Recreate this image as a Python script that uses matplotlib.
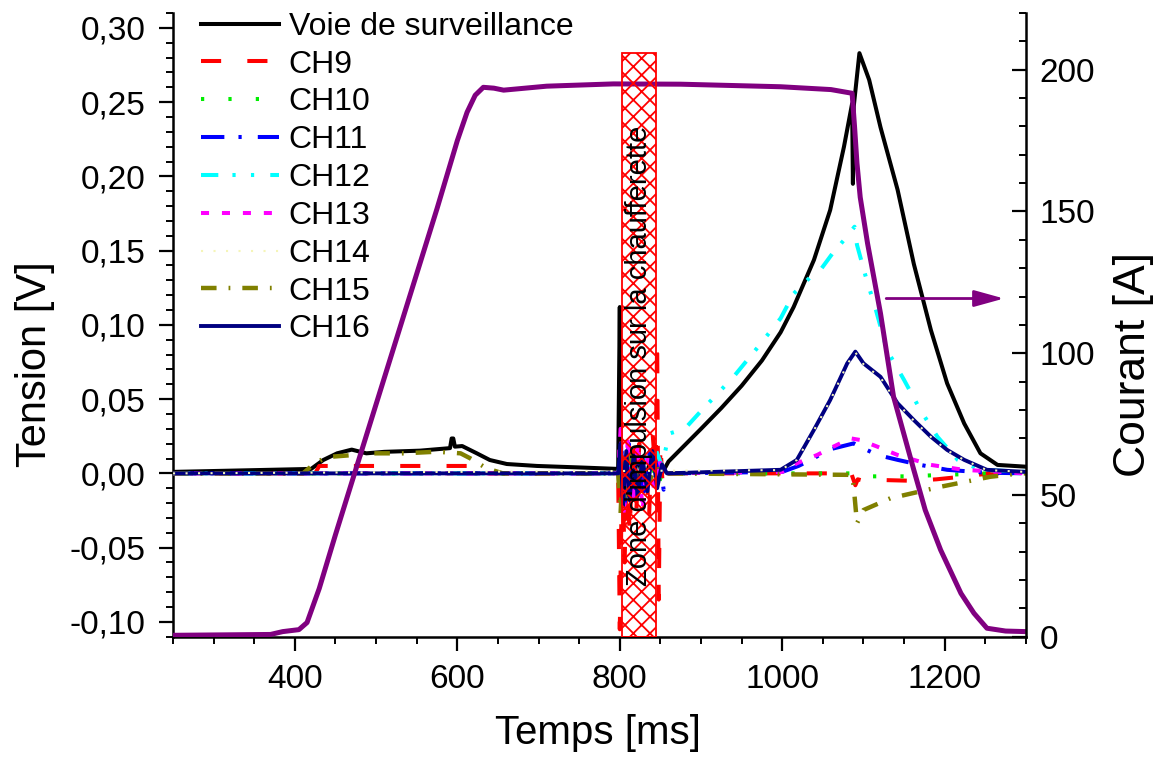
import matplotlib
matplotlib.use("Agg")
import matplotlib.pyplot as plt
from matplotlib.patches import Rectangle
from matplotlib.ticker import MultipleLocator, FuncFormatter

plt.rcParams["font.family"] = ["Liberation Sans", "DejaVu Sans"]
plt.rcParams["hatch.linewidth"] = 1.3

# --- data (time in ms, voltage in V, current in A) ---
t_voie = [250, 420, 435, 452, 470, 488, 510, 554, 591, 593, 595, 597, 606, 624, 640, 661, 698,
          750, 798, 800, 801, 803, 808, 815, 822, 830, 838, 845, 852, 860, 880, 900, 925, 950,
          975, 998, 1014, 1039, 1059, 1076, 1086, 1087, 1088, 1095, 1107, 1121, 1142, 1162,
          1183, 1203, 1224, 1244, 1265, 1300]
v_voie = [0.001, 0.003, 0.009, 0.0135, 0.016, 0.0135, 0.0145, 0.0153, 0.017, 0.0235, 0.0235,
          0.018, 0.0184, 0.0135, 0.009, 0.0063, 0.005, 0.004, 0.003, 0.112, 0.02, -0.005, 0.01,
          -0.01, 0.012, -0.008, 0.01, 0.004, 0.0, 0.008, 0.019, 0.03, 0.044, 0.059, 0.076,
          0.095, 0.112, 0.1437, 0.1773, 0.22, 0.249, 0.195, 0.247, 0.283, 0.265, 0.233, 0.191,
          0.141, 0.0965, 0.0606, 0.0336, 0.0135, 0.0057, 0.0045]

t_ch9 = [250, 425, 430, 620, 625, 798, 800, 803, 806, 809, 812, 816, 820, 824, 828, 832, 836,
         840, 844, 846, 848, 850, 853, 858, 1085, 1090, 1093, 1100, 1125, 1160, 1190, 1220,
         1256, 1300]
v_ch9 = [0.0, 0.0, 0.005, 0.005, 0.0, 0.0, -0.105, 0.01, -0.06, 0.02, -0.04, 0.015, -0.03,
         0.02, -0.02, 0.01, -0.03, 0.03, 0.0, 0.09, -0.085, 0.02, -0.01, 0.0, 0.0, -0.008,
         -0.004, -0.005, -0.0045, -0.005, -0.004, -0.0023, 0.0, 0.0]

t_ch10 = [250, 798, 802, 806, 812, 818, 825, 832, 840, 846, 852, 1085, 1095, 1150, 1250, 1300]
v_ch10 = [0.0, 0.0, 0.02, -0.015, 0.01, -0.01, 0.012, -0.008, 0.006, -0.01, 0.0, 0.0,
          -0.002, -0.002, 0.0, 0.0]

t_ch11 = [250, 798, 802, 806, 811, 817, 823, 830, 837, 843, 849, 854, 860, 1000, 1020, 1039,
          1055, 1072, 1088, 1096, 1117, 1142, 1170, 1203, 1250, 1300]
v_ch11 = [0.0, 0.0, 0.015, -0.02, 0.02, -0.015, 0.01, -0.012, 0.015, -0.01, 0.008, -0.011,
          0.0, 0.001, 0.005, 0.0101, 0.0157, 0.018, 0.0202, 0.0179, 0.0124, 0.0091, 0.0057,
          0.0024, 0.0005, 0.0]

t_ch12 = [250, 798, 802, 808, 815, 822, 830, 838, 845, 852, 858, 862, 880, 900, 940, 970,
          998, 1014, 1035, 1047, 1062, 1076, 1089, 1092, 1105, 1113, 1129, 1150, 1170, 1191,
          1216, 1244, 1300]
v_ch12 = [0.0, 0.0, 0.012, -0.01, 0.008, -0.006, 0.01, -0.005, 0.015, 0.005, 0.02, 0.027,
          0.03, 0.042, 0.065, 0.085, 0.1044, 0.121, 0.1324, 0.137, 0.1482, 0.1571, 0.1661,
          0.1539, 0.1281, 0.1146, 0.083, 0.0629, 0.0427, 0.0247, 0.0091, 0.0024, 0.001]

t_ch13 = [250, 798, 801, 805, 810, 816, 822, 828, 835, 842, 848, 853, 1000, 1018, 1043, 1063,
          1084, 1096, 1117, 1142, 1183, 1223, 1300]
v_ch13 = [0.0, 0.0, 0.03, -0.03, 0.025, -0.02, 0.02, -0.025, 0.015, -0.01, 0.01, 0.0, 0.001,
          0.0068, 0.0124, 0.018, 0.0236, 0.0225, 0.018, 0.0124, 0.0057, 0.0024, 0.0]

t_ch15 = [250, 410, 425, 440, 468, 493, 534, 575, 604, 616, 636, 656, 798, 801, 804, 808, 814,
          820, 828, 836, 844, 850, 1086, 1088, 1092, 1100, 1133, 1195, 1256, 1293, 1300]
v_ch15 = [0.0, 0.0, 0.007, 0.011, 0.0122, 0.0135, 0.0135, 0.0146, 0.0135, 0.0101, 0.0034, 0.0,
          0.0, -0.027, 0.01, -0.015, 0.012, -0.01, 0.008, -0.006, 0.005, 0.0, -0.001, -0.009,
          -0.0336, -0.0247, -0.0168, -0.009, -0.0023, 0.0, 0.0]

t_ch16 = [250, 798, 801, 804, 808, 812, 817, 822, 828, 834, 840, 846, 852, 858, 998, 1018,
          1039, 1059, 1080, 1090, 1100, 1121, 1142, 1162, 1183, 1203, 1224, 1252, 1300]
v_ch16 = [0.0, 0.0, 0.02, -0.022, 0.015, -0.018, 0.012, -0.015, 0.01, -0.012, 0.015, -0.01,
          0.006, 0.0, 0.0024, 0.0091, 0.0293, 0.0494, 0.0741, 0.082, 0.0741, 0.065, 0.0472,
          0.0359, 0.0247, 0.0158, 0.0091, 0.0024, 0.001]

t_ch14 = [250, 998, 1018, 1039, 1059, 1080, 1090, 1100, 1121, 1142, 1162, 1183, 1203, 1224,
          1252, 1300]
v_ch14 = [0.0, 0.0022, 0.009, 0.029, 0.049, 0.0735, 0.0815, 0.0735, 0.0645, 0.047, 0.0355,
          0.0245, 0.0155, 0.009, 0.0022, 0.001]

t_cur = [250, 370, 385, 405, 415, 430, 450, 475, 500, 525, 550, 575, 600, 612, 622, 632, 645,
         657, 710, 792, 875, 998, 1060, 1086, 1089, 1092, 1096, 1105, 1121, 1137, 1162, 1176,
         1195, 1220, 1236, 1252, 1275, 1300]
i_cur = [0.5, 0.8, 1.8, 2.5, 5, 17, 36, 59, 82, 105, 128, 151, 175, 185, 191, 193.8, 193.5,
         192.8, 194.2, 195, 194.9, 194, 193, 191.7, 180, 167, 155, 138.8, 114, 84.7, 58.8,
         44.7, 30.6, 15.3, 8.3, 3, 2, 1.8]

zone_t = (803, 844)
zone_top_a = 206

fig = plt.figure(figsize=(11.62, 7.58), dpi=100)
ax = fig.add_axes([0.1489, 0.16, 0.734, 0.8228])
ax2 = ax.twinx()

ax.plot(t_voie, v_voie, color="black", lw=2.9, label="Voie de surveillance", zorder=3)
ax.plot(t_ch9, v_ch9, color="#ff0000", lw=2.9, dashes=(5, 6.5), label="CH9", zorder=3)
ax.plot(t_ch10, v_ch10, color="#00ee00", lw=2.9, dashes=(0.8, 6), label="CH10", zorder=3)
ax.plot(t_ch11, v_ch11, color="#0000ff", lw=2.9, dashes=(5.8, 3.5, 0.8, 4), label="CH11", zorder=3)
ax.plot(t_ch12, v_ch12, color="#00ffff", lw=2.9, dashes=(4.3, 3.5, 0.8, 3.8, 0.8, 4),
        label="CH12", zorder=3)
ax.plot(t_ch13, v_ch13, color="#ff00ff", lw=2.9, dashes=(2, 3.2), label="CH13", zorder=3)
ax.plot(t_ch14, v_ch14, color="#f5f5b8", lw=1.5, dashes=(1, 5), label="CH14", zorder=5)
ax.plot(t_ch15, v_ch15, color="#808000", lw=3.2, dashes=(3.5, 2.7, 0.4, 2.7), label="CH15",
        zorder=3)
ax.plot(t_ch16, v_ch16, color="#000080", lw=2.8, label="CH16", zorder=4)

ax2.plot(t_cur, i_cur, color="#800080", lw=3.6, solid_capstyle="butt")

# hatched pulse zone + label
ax2.add_patch(Rectangle((zone_t[0], 0), zone_t[1] - zone_t[0], zone_top_a, facecolor="none",
                        edgecolor="red", hatch="xx", lw=1.3, zorder=6))
ax2.text(sum(zone_t) / 2, 99, "Zone d'impulsion sur la chaufferette", rotation=90,
         ha="center", va="center", fontsize=21, zorder=7)

ax2.annotate("", xy=(1273, 119.3), xytext=(1128, 119.3),
             arrowprops=dict(arrowstyle="-|>,head_length=0.65,head_width=0.18",
                             color="#800080", lw=2, mutation_scale=28, shrinkA=0, shrinkB=0))

ax.set_xlim(250, 1300)
ax.set_ylim(-0.11, 0.31)
ax2.set_ylim(0, 220)

ax.xaxis.set_major_locator(MultipleLocator(200))
ax.xaxis.set_minor_locator(MultipleLocator(50))
ax.yaxis.set_major_locator(MultipleLocator(0.05))
ax.yaxis.set_minor_locator(MultipleLocator(0.01))
ax.yaxis.set_major_formatter(FuncFormatter(lambda v, p: f"{v:.2f}".replace(".", ",").replace("-0,00", "0,00")))
ax2.yaxis.set_major_locator(MultipleLocator(50))
ax2.yaxis.set_minor_locator(MultipleLocator(10))

for a in (ax, ax2):
    a.spines["top"].set_visible(False)
    for s in a.spines.values():
        s.set_linewidth(1.8)
ax.spines["right"].set_visible(False)
ax2.spines["left"].set_visible(False)
ax2.spines["bottom"].set_visible(False)

ax.tick_params(which="major", direction="out", length=10, width=1.6, labelsize=24, pad=10)
ax.tick_params(which="minor", direction="out", length=5, width=1.4)
ax2.tick_params(which="major", direction="in", length=10, width=1.6, labelsize=24, pad=10)
ax2.tick_params(which="minor", direction="in", length=5, width=1.4)

ax.text(-0.162, 0.437, "Tension [V]", transform=ax.transAxes, rotation=90, ha="center",
        va="center", fontsize=30)
ax.text(1.126, 0.437, "Courant [A]", transform=ax.transAxes, rotation=90, ha="center",
        va="center", fontsize=32)
ax.text(0.498, -0.154, "Temps [ms]", transform=ax.transAxes, ha="center", va="center",
        fontsize=29)

ax.legend(loc="upper left", bbox_to_anchor=(0.0328, 1.002), frameon=False, fontsize=23,
          borderpad=0, borderaxespad=0, labelspacing=0.245, handlelength=2.45,
          handletextpad=0.3)

fig.savefig("out.png", dpi=100)
